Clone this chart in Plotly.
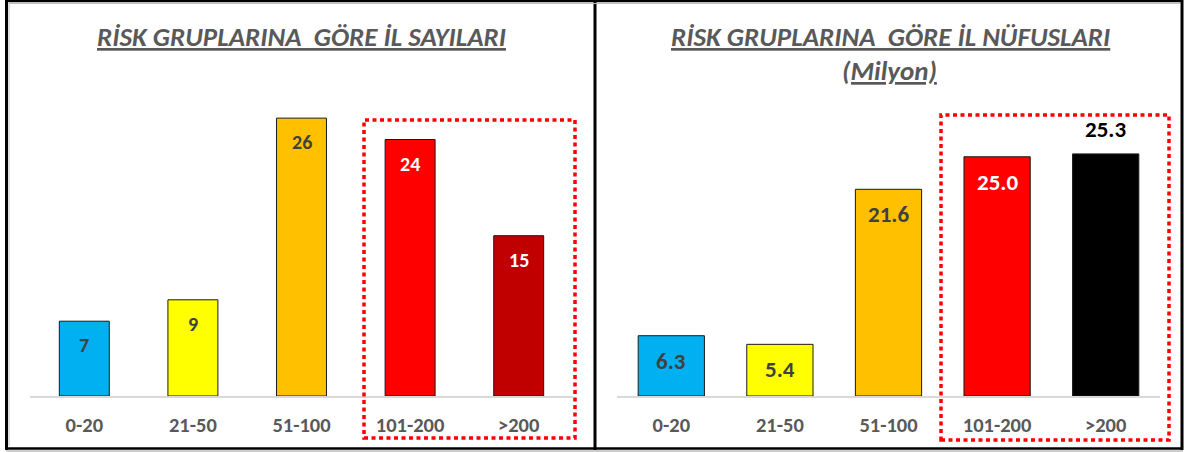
import plotly.graph_objects as go

W, H = 1184, 452

categories = ["0-20", "21-50", "51-100", "101-200", ">200"]
il_sayilari = [7, 9, 26, 24, 15]
il_nufuslari = [6.3, 5.4, 21.6, 25.0, 25.3]
left_labels = ["7", "9", "26", "24", "15"]
right_labels = ["6.3", "5.4", "21.6", "25.0", "25.3"]

left_colors = ["#00B0F0", "#FFFF00", "#FFC000", "#FF0000", "#C00000"]
right_colors = ["#00B0F0", "#FFFF00", "#FFC000", "#FF0000", "#000000"]
left_text_colors = ["#404040", "#404040", "#404040", "#FFFFFF", "#FFFFFF"]
right_text_colors = ["#404040", "#404040", "#404040", "#FFFFFF", "#000000"]

title_left = "RİSK GRUPLARINA  GÖRE İL SAYILARI"
title_right = "RİSK GRUPLARINA  GÖRE İL NÜFUSLARI"
subtitle_right = "(Milyon)"

FONT = "Carlito, Calibri, Lato, 'Open Sans', sans-serif"
GRAY = "#595959"


def px_x(p):
    return p / W


def px_y(p):
    return 1 - p / H


fig = go.Figure()
fig.add_trace(go.Bar(x=categories, y=il_sayilari, marker=dict(color=left_colors, line=dict(color="#1a1a1a", width=1)),
                     xaxis="x", yaxis="y", width=0.46, hoverinfo="skip"))
fig.add_trace(go.Bar(x=categories, y=il_nufuslari, marker=dict(color=right_colors, line=dict(color="#1a1a1a", width=1)),
                     xaxis="x2", yaxis="y2", width=0.61, hoverinfo="skip"))

annotations = []
for c, v, t, col in zip(categories, il_sayilari, left_labels, left_text_colors):
    annotations.append(dict(x=c, y=v, xref="x", yref="y", text="<b>%s</b>" % t, showarrow=False,
                            yanchor="middle", yshift=-24, font=dict(family=FONT, size=20, color=col)))
for i, (c, v, t, col) in enumerate(zip(categories, il_nufuslari, right_labels, right_text_colors)):
    shift = 25 if i == 4 else -25
    annotations.append(dict(x=c, y=v, xref="x2", yref="y2", text="<b>%s</b>" % t, showarrow=False,
                            yanchor="middle", yshift=shift, font=dict(family=FONT, size=23, color=col)))

title_font = dict(family=FONT, size=27, color=GRAY, style="italic", weight="bold", lineposition="under")
annotations.append(dict(x=px_x(301), y=px_y(37), xref="paper", yref="paper", text=title_left,
                        showarrow=False, font=title_font, xanchor="center", yanchor="middle"))
annotations.append(dict(x=px_x(890), y=px_y(37), xref="paper", yref="paper", text=title_right,
                        showarrow=False, font=title_font, xanchor="center", yanchor="middle"))
annotations.append(dict(x=px_x(889), y=px_y(70), xref="paper", yref="paper", text=subtitle_right,
                        showarrow=False, font=title_font, xanchor="center", yanchor="middle"))

shapes = []


def line(x0, y0, x1, y1, color="#000000", width=3):
    shapes.append(dict(type="line", xref="paper", yref="paper", x0=px_x(x0), y0=px_y(y0), x1=px_x(x1), y1=px_y(y1),
                       line=dict(color=color, width=width)))


# frame lines
line(6, 1, 1183, 1, width=2.5)
line(6, 448.5, 1183, 448.5, width=2.5)
line(6.5, 0, 6.5, 450, width=3)
line(595, 0, 595, 450, width=3)
line(1182, 0, 1182, 450, width=3)
line(9, 3.5, 1180, 3.5, color="#bfbfbf", width=1)
line(9, 3.5, 9, 446, color="#bfbfbf", width=1)
line(6, 451, 1183, 451, color="#9a9a9a", width=1)

# dotted highlight boxes
for (x0, y0, x1, y1) in [(364, 120, 575, 438), (941, 115, 1169, 440)]:
    shapes.append(dict(type="rect", xref="paper", yref="paper", x0=px_x(x0), y0=px_y(y1), x1=px_x(x1), y1=px_y(y0),
                       line=dict(color="#FF0000", width=3.5, dash="4px,3.5px"), fillcolor="rgba(0,0,0,0)"))

ydom = [px_y(396), px_y(85)]
axis_common = dict(showline=True, linecolor="#d9d9d9", linewidth=1.5, showgrid=False, zeroline=False,
                   ticks="", tickfont=dict(family=FONT, size=20.5, color=GRAY, weight="bold"),
                   ticklabelstandoff=10, fixedrange=True)
fig.update_layout(
    width=W, height=H,
    margin=dict(l=0, r=0, t=0, b=0),
    paper_bgcolor="white", plot_bgcolor="white",
    showlegend=False,
    xaxis=dict(domain=[px_x(30), px_x(573)], anchor="y", **axis_common),
    xaxis2=dict(domain=[px_x(617), px_x(1160)], anchor="y2", **axis_common),
    yaxis=dict(domain=ydom, range=[0, 29.1], visible=False, anchor="x"),
    yaxis2=dict(domain=ydom, range=[0, 32.5], visible=False, anchor="x2"),
    annotations=annotations,
    shapes=shapes,
)

fig.write_html("out.html", config={"displayModeBar": False},
               post_script="document.body.style.margin='0';document.body.style.overflow='hidden';")
